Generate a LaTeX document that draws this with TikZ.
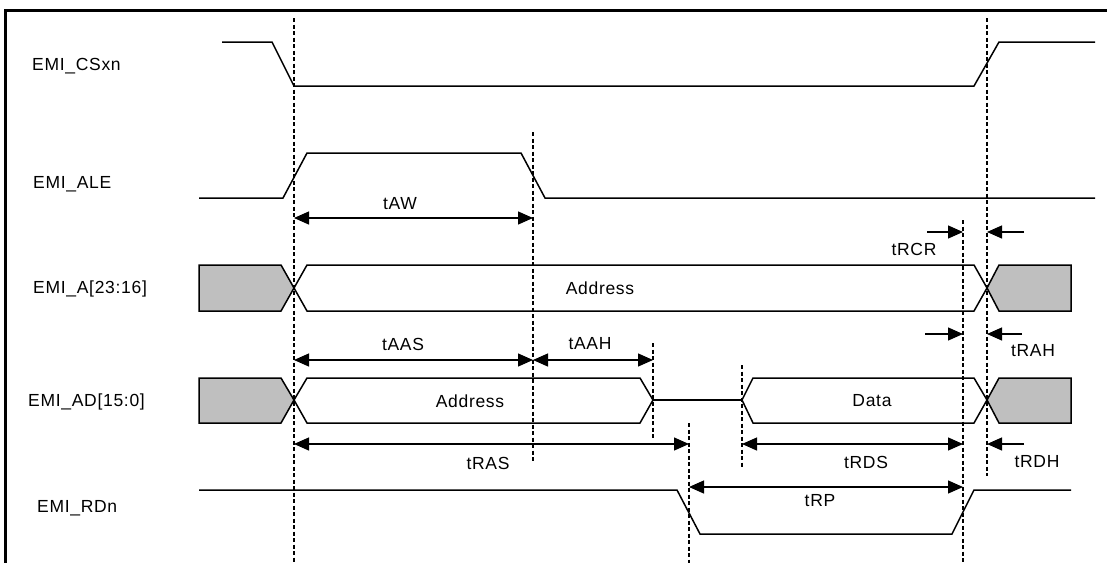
\documentclass[tikz,border=0pt]{standalone}
\usepackage{fontspec}
\setmainfont{Liberation Sans}[LetterSpace=4.0]
\usetikzlibrary{arrows.meta,positioning,calc}

\begin{document}
\begin{tikzpicture}[
    x=1pt, y=-1pt,
    font=\fontsize{17.5}{20}\selectfont,
    sig/.style={line width=1.5pt, line join=miter},
    hiz/.style={line width=1.5pt, fill=gray!50},
    guide/.style={line width=1.3pt, dash pattern=on 4pt off 2.5pt},
    dimarrow/.style={line width=1.3pt, {Triangle[length=15pt,width=13pt]}-{Triangle[length=15pt,width=13pt]}},
    halfarrow/.style={line width=1.3pt, -{Triangle[length=15pt,width=13pt]}},
    siglabel/.style={anchor=west, inner sep=0pt},
    timelabel/.style={inner sep=0pt}
]
\useasboundingbox (0,0) rectangle (1107,562);
% frame
\draw[line width=3pt] (5,565) -- (5,10) -- (1110,10);

% signal names
\node[siglabel] (csxn) at (32,66) {EMI\_CSxn};
\node[siglabel] (ale) at (33,184) {EMI\_ALE};
\node[siglabel] (addrhi) at (33,289) {EMI\_A[23:16]};
\node[siglabel] (addata) at (28,402) {EMI\_AD[15:0]};
\node[siglabel] (rdn) at (37,508) {EMI\_RDn};

% guide lines
\coordinate (gA) at (294,0);
\coordinate (gB) at (533,0);
\coordinate (gC) at (653,0);
\coordinate (gD) at (689,0);
\coordinate (gE) at (742,0);
\coordinate (gF) at (963,0);
\coordinate (gG) at (987,0);
\draw[guide] (gA |- 0,18) -- (gA |- 0,565);
\draw[guide] (gB |- 0,132) -- (gB |- 0,462);
\draw[guide] (gC |- 0,343) -- (gC |- 0,439);
\draw[guide] (gD |- 0,423) -- (gD |- 0,565);
\draw[guide] (gE |- 0,365) -- (gE |- 0,467);
\draw[guide] (gF |- 0,220) -- (gF |- 0,565);
\draw[guide] (gG |- 0,18) -- (gG |- 0,476);

% EMI_CSxn
\draw[sig] (222,42) -- (272,42) -- (294,86) -- (974,86) -- (999,42) -- (1095,42);
% EMI_ALE
\draw[sig] (199,198) -- (283,198) -- (307,153) -- (521,153) -- (545,198) -- (1095,198);
% EMI_A[23:16]
\draw[hiz] (199,265) -- (281,265) -- (294,288) -- (281,311) -- (199,311) -- cycle;
\draw[sig] (294,288) -- (307,265) -- (974,265) -- (987,288) -- (974,311) -- (307,311) -- cycle;
\draw[hiz] (987,288) -- (999,265) -- (1071,265) -- (1071,311) -- (999,311) -- cycle;
\node[timelabel] (abus) at (600,288) {Address};
% EMI_AD[15:0]
\draw[hiz] (199,378) -- (281,378) -- (294,400) -- (281,423) -- (199,423) -- cycle;
\draw[sig] (294,400) -- (307,378) -- (640,378) -- (653,400) -- (640,423) -- (307,423) -- cycle;
\draw[sig] (653,400) -- (742,400);
\draw[sig] (742,400) -- (753,378) -- (974,378) -- (987,400) -- (974,423) -- (753,423) -- cycle;
\draw[hiz] (987,400) -- (999,378) -- (1071,378) -- (1071,423) -- (999,423) -- cycle;
\node[timelabel] (adaddr) at (470,401) {Address};
\node[timelabel] (addat) at (872,401) {Data};
% EMI_RDn
\draw[sig] (199,490) -- (677,490) -- (700,534) -- (952,534) -- (974,490) -- (1071,490);

% timings
\draw[dimarrow] (gA |- 0,218) -- (gB |- 0,218);
\node[timelabel] (taw) at (400,204) {tAW};
\draw[halfarrow] (927,232) -- (gF |- 0,232);
\draw[halfarrow] (1024,232) -- (gG |- 0,232);
\node[timelabel] (trcr) at (914,249) {tRCR};
\draw[dimarrow] (gA |- 0,360) -- (gB |- 0,360);
\node[timelabel] (taas) at (403,344) {tAAS};
\draw[dimarrow] (gB |- 0,360) -- (gC |- 0,360);
\node[timelabel] (taah) at (590,344) {tAAH};
\draw[halfarrow] (925,334) -- (gF |- 0,334);
\draw[halfarrow] (1022,334) -- (gG |- 0,334);
\node[timelabel] (trah) at (1033,351) {tRAH};
\draw[dimarrow] (gA |- 0,444) -- (gD |- 0,444);
\node[timelabel] (tras) at (488,463) {tRAS};
\draw[dimarrow] (gE |- 0,444) -- (gF |- 0,444);
\node[timelabel] (trds) at (866,462) {tRDS};
\draw[halfarrow] (1024,444) -- (gG |- 0,444);
\node[timelabel] (trdh) at (1037,462) {tRDH};
\draw[dimarrow] (gD |- 0,487) -- (gF |- 0,487);
\node[timelabel] (trp) at (820,501) {tRP};
\end{tikzpicture}
\end{document}
